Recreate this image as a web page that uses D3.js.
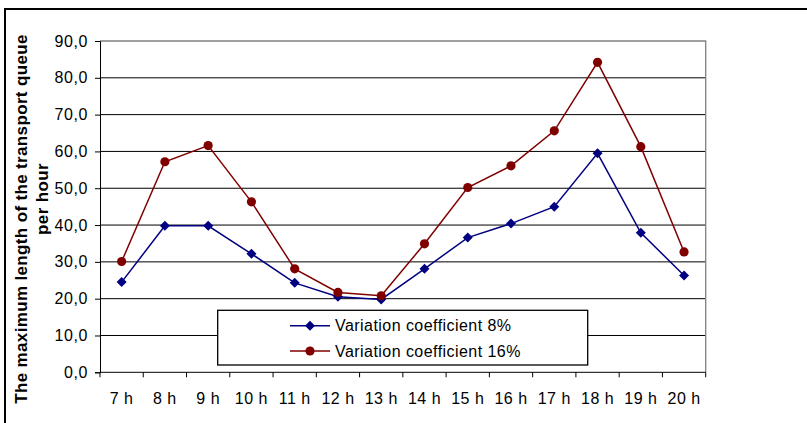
<!DOCTYPE html>
<html>
<head>
<meta charset="utf-8">
<script src="https://cdn.jsdelivr.net/npm/d3@7"></script>
<style>
  html, body { margin: 0; padding: 0; background: #fff; }
  svg { display: block; }
  text { font-family: "Liberation Sans", Arial, sans-serif; fill: #000; }
</style>
</head>
<body>
<svg id="chart" width="807" height="423"></svg>
<script>
const categories = ["7 h","8 h","9 h","10 h","11 h","12 h","13 h","14 h","15 h","16 h","17 h","18 h","19 h","20 h"];
const seriesNames = ["Variation coefficient 8%", "Variation coefficient 16%"];
const values8 = [24.5, 39.8, 39.8, 32.2, 24.3, 20.5, 19.8, 28.1, 36.6, 40.4, 45.0, 59.5, 37.9, 26.3];
const values16 = [30.1, 57.2, 61.6, 46.3, 28.1, 21.7, 20.8, 34.9, 50.2, 56.1, 65.6, 84.2, 61.3, 32.7];
const yTicks = [0, 10, 20, 30, 40, 50, 60, 70, 80, 90];
const yTitle = ["The maximum length of the transport queue", "per hour"];

(function () {
const svg = d3.select("#chart");
const pLeft = 100, pRight = 705.7, pTop = 41, pBottom = 372.3;
const FONT = '"Liberation Sans", Arial, sans-serif';

const x = d3.scaleBand().domain(categories).range([pLeft, pRight]);
const y = d3.scaleLinear().domain([0, 90]).range([pBottom, pTop]);

// outer border
svg.append("rect").attr("x", 5).attr("y", 9).attr("width", 900).attr("height", 600)
  .attr("fill", "#fff").attr("stroke", "#000").attr("stroke-width", 2);

// gridlines
svg.append("g").selectAll("line").data(yTicks.filter(d => d > 0 && d < 90)).join("line")
  .attr("x1", pLeft).attr("x2", pRight).attr("y1", d => y(d)).attr("y2", d => y(d))
  .attr("stroke", "#000").attr("stroke-width", 1);

// plot area border top/right (gray)
svg.append("path")
  .attr("d", `M${pLeft},${y(90)}H${pRight}V${pBottom}`)
  .attr("fill", "none").attr("stroke", "#808080").attr("stroke-width", 1.3);

// y axis
const yAxis = svg.append("g").attr("transform", `translate(${pLeft},0)`)
  .call(d3.axisLeft(y).tickValues(yTicks).tickSize(5).tickPadding(7)
    .tickFormat(d => d.toFixed(1).replace(".", ",")));
yAxis.select(".domain").attr("stroke", "#000");
yAxis.selectAll(".tick line").attr("stroke", "#000");
yAxis.selectAll("text").style("font-size", "16px").style("letter-spacing", "0.6px").attr("fill", "#000")
  .style("font-family", FONT);

// x axis
const xAxis = svg.append("g").attr("transform", `translate(0,${pBottom})`)
  .call(d3.axisBottom(x).tickSize(0).tickPadding(20));
xAxis.select(".domain").remove();
xAxis.selectAll("text").style("font-size", "16px").style("letter-spacing", "0.5px").attr("fill", "#000")
  .style("font-family", FONT);
svg.append("line").attr("x1", pLeft).attr("x2", pRight).attr("y1", pBottom).attr("y2", pBottom)
  .attr("stroke", "#000").attr("stroke-width", 1);
const bounds = categories.map(c => x(c)).concat([pRight]);
svg.append("g").selectAll("line").data(bounds).join("line")
  .attr("x1", d => d).attr("x2", d => d).attr("y1", pBottom).attr("y2", pBottom + 5)
  .attr("stroke", "#000");

// y title
yTitle.forEach((t, i) => {
  const cx = i === 0 ? 27 : 48;
  const cy = i === 0 ? 219 : 199;
  svg.append("text").attr("transform", `translate(${cx},${cy}) rotate(-90)`)
    .attr("text-anchor", "middle").style("font-size", "17px").style("font-weight", "bold")
    .style("letter-spacing", "0.35px").text(t);
});

// series
const colors = ["#000080", "#800000"];
const data = [values8, values16];
const line = d3.line().x((d, i) => x(categories[i]) + x.bandwidth() / 2).y(d => y(d));
function marker(g, k, cx, cy) {
  if (k === 0) {
    g.append("path").attr("d", "M0,-5L5,0L0,5L-5,0Z").attr("transform", `translate(${cx},${cy})`)
      .attr("fill", colors[k]);
  } else {
    g.append("circle").attr("cx", cx).attr("cy", cy).attr("r", 4.6).attr("fill", colors[k]);
  }
}
data.forEach((vals, k) => {
  const g = svg.append("g");
  g.append("path").datum(vals).attr("d", line).attr("fill", "none")
    .attr("stroke", colors[k]).attr("stroke-width", 1.5);
  vals.forEach((v, i) => marker(g, k, x(categories[i]) + x.bandwidth() / 2, y(v)));
});

// legend
const lg = svg.append("g");
lg.append("rect").attr("x", 217.7).attr("y", 310.3).attr("width", 370).attr("height", 54.7)
  .attr("fill", "#fff").attr("stroke", "#000").attr("stroke-width", 1.3);
seriesNames.forEach((name, k) => {
  const ry = 325.7 + k * 25.3;
  lg.append("line").attr("x1", 290).attr("x2", 330).attr("y1", ry).attr("y2", ry)
    .attr("stroke", colors[k]).attr("stroke-width", 1.5);
  marker(lg, k, 310, ry);
  lg.append("text").attr("x", 335).attr("y", ry).attr("dy", "0.35em")
    .style("font-size", "16px").style("letter-spacing", "0.45px").text(name);
});
})();
</script>
</body>
</html>
